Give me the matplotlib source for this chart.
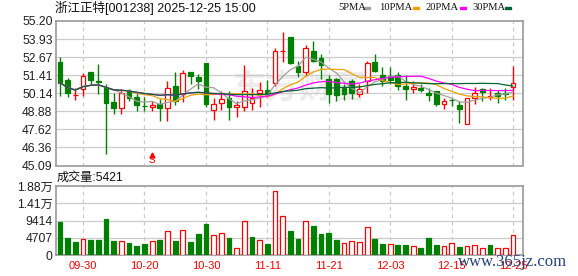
import matplotlib
matplotlib.use('Agg')
import matplotlib.pyplot as plt
import numpy as np
import pandas as pd
from matplotlib.patches import Rectangle

plt.rcParams['font.family'] = ['Liberation Sans', 'Noto Sans CJK SC']

title = '浙江正特[001238] 2025-12-25 15:00'

opens = [52.30, 51.06, 50.00, 50.43, 51.60, 51.00, 50.54, 49.54, 49.14, 50.31,
         49.89, 49.27, 49.18, 49.37, 49.14, 50.68, 50.07, 51.66, 51.25, 52.25,
         48.98, 49.49, 49.80, 49.20, 49.20, 49.49, 50.15, 50.38, 50.89, 53.10,
         54.05, 52.06, 51.66, 53.07, 52.58, 51.17, 51.17, 50.54, 51.01, 50.07,
         51.01, 52.34, 51.43, 51.32, 51.41, 50.66, 50.47, 50.54, 50.15, 50.31,
         49.42, 49.70, 49.30, 48.00, 49.84, 50.43, 49.89, 50.19, 50.17, 50.59]
highs = [52.65, 51.20, 50.54, 51.55, 51.65, 52.20, 50.78, 50.15, 50.47, 50.47,
         50.24, 49.90, 49.60, 49.77, 51.00, 51.65, 51.78, 51.66, 51.48, 52.25,
         49.84, 50.31, 50.30, 49.60, 52.13, 50.54, 50.96, 51.10, 53.30, 54.40,
         54.05, 52.41, 53.52, 53.83, 52.88, 51.41, 51.20, 50.78, 51.13, 50.78,
         52.37, 52.88, 51.95, 51.95, 51.60, 51.41, 51.00, 50.78, 50.54, 50.31,
         49.84, 49.84, 49.61, 49.84, 50.61, 50.54, 50.50, 50.38, 50.50, 52.02]
lows = [49.96, 49.89, 49.68, 49.96, 50.78, 50.10, 45.90, 48.67, 48.67, 49.61,
        48.90, 48.90, 48.90, 48.20, 48.20, 49.35, 49.54, 50.78, 50.47, 49.20,
        48.27, 48.98, 48.27, 48.50, 48.90, 48.98, 49.20, 49.96, 50.66, 52.35,
        52.20, 51.25, 51.32, 52.30, 51.13, 49.49, 49.61, 49.68, 49.77, 49.91,
        50.19, 51.60, 50.66, 50.78, 50.38, 49.68, 50.19, 50.24, 49.61, 49.26,
        49.07, 49.26, 48.04, 48.00, 49.37, 49.61, 49.65, 49.49, 49.70, 49.70]
closes = [50.89, 50.17, 50.05, 51.32, 51.08, 50.90, 49.49, 49.14, 50.15, 49.84,
          49.30, 49.22, 49.35, 49.14, 50.54, 49.60, 51.55, 51.32, 51.01, 49.37,
          49.42, 49.77, 49.19, 49.35, 50.29, 49.80, 50.38, 50.15, 53.07, 53.12,
          52.23, 51.64, 53.28, 52.37, 52.11, 50.07, 50.02, 50.12, 50.15, 50.47,
          52.25, 51.71, 51.01, 51.08, 50.66, 50.43, 50.61, 50.36, 50.00, 49.37,
          49.61, 49.66, 49.07, 49.84, 50.15, 50.26, 49.96, 49.98, 50.12, 50.89]
volumes = [8996, 4590, 3488, 4498, 4039, 4039, 9823, 3764, 3947, 3213,
           2387, 2938, 3947, 4039, 6426, 3764, 6701, 3488, 5692, 8446,
           5324, 5875, 4590, 2020, 9180, 4865, 4223, 2938, 17442, 10649,
           6518, 4315, 9180, 7895, 5692, 5967, 4039, 3213, 3947, 3672,
           7528, 4315, 2938, 2938, 2662, 2662, 2387, 1836, 4590, 2662,
           2387, 3213, 2111, 2387, 2662, 1836, 2662, 1836, 1836, 5421]

date_labels = ['09-30', '10-20', '10-30', '11-11', '11-21', '12-03', '12-15', '12-25']
date_label_idx = [3, 11, 19, 27, 35, 43, 51, 59]

price_ticks = [45.09, 46.36, 47.62, 48.88, 50.14, 51.41, 52.67, 53.93, 55.20]
price_tick_labels = ['45.09', '46.36', '47.62', '48.88', '50.14', '51.41', '52.67', '53.93', '55.20']
vol_ticks = [0, 4707, 9414, 14121, 18828]
vol_tick_labels = ['0', '4707', '9414', '1.41万', '1.88万']

ma_windows = [5, 10, 20, 30]
ma_names = ['5PMA', '10PMA', '20PMA', '30PMA']
ma_colors = ['#a0a0a0', '#f0a000', '#ff00ff', '#006633']

signal_idx = 12
signal_text = 'S'

RED = '#ff0000'
GREEN = '#008000'
GRID = '#cccccc'
FRAME = '#999999'

W, H = 578, 276
fig = plt.figure(figsize=(W / 100, H / 100), dpi=100)

def fx(px):
    return px / W

def fy(py):
    return 1 - py / H

ax = fig.add_axes([fx(56), fy(165.5), fx(523) - fx(56), fy(21) - fy(165.5)])
ax2 = fig.add_axes([fx(56), fy(255), fx(523) - fx(56), fy(186) - fy(255)])

o = np.array(opens); h = np.array(highs); l = np.array(lows); c = np.array(closes)
v = np.array(volumes)
n = len(c)
x = np.arange(n)
up = c >= o

# watermark
ax.text(0.52, 0.53, '东方财富', transform=ax.transAxes, fontsize=24,
        color='#ececec', ha='center', va='center', zorder=0,
        family=['Noto Sans CJK SC'], fontweight='bold')

# candles
cols = np.where(up, RED, GREEN)
faces = np.where(up, 'white', GREEN)
ax.vlines(x, l, h, colors=cols, linewidth=1.0, zorder=3)
ax.bar(x, np.maximum(np.abs(c - o), 0.02), bottom=np.minimum(o, c), width=0.62,
       color=faces, edgecolor=cols, linewidth=0.9, zorder=4)

# moving averages
cs = pd.Series(c)
for w, col in zip(ma_windows, ma_colors):
    ma = cs.rolling(w, min_periods=1).mean()
    ax.plot(x, ma.values, color=col, linewidth=0.9, zorder=5)

# signal marker
ax.plot([signal_idx], [45.85], marker='^', color=RED, markersize=3.5, zorder=6, linestyle='none')
ax.text(signal_idx, 45.12, signal_text, color=RED, ha='center', va='bottom',
        fontsize=8, zorder=6, family=['Liberation Mono'])

# volume
prev = np.concatenate([[o[0]], c[:-1]])
vup = c >= prev
vcols = np.where(vup, RED, GREEN)
vfaces = np.where(vup, 'white', GREEN)
ax2.bar(x, v, width=0.62, color=vfaces, edgecolor=vcols, linewidth=0.9, zorder=3)

for a in (ax, ax2):
    a.set_xlim(-0.52, n - 1 + 1.3)
    for s in a.spines.values():
        s.set_color(FRAME)
        s.set_linewidth(1.2)
    for xi in date_label_idx:
        a.axvline(xi, color=GRID, linewidth=0.9, linestyle=(0, (3, 3)), zorder=1)
    a.tick_params(length=0)

ax.set_ylim(price_ticks[0], price_ticks[-1])
ax.set_yticks(price_ticks)
ax.set_yticklabels(price_tick_labels, fontsize=8.7, color='#222222')
for t in price_ticks[1:-1]:
    ax.axhline(t, color=GRID, linewidth=0.9, zorder=1)
ax.set_xticks([])
ax.tick_params(axis='y', pad=2.5)

ax2.set_ylim(vol_ticks[0], vol_ticks[-1])
ax2.set_yticks(vol_ticks)
ax2.set_yticklabels(vol_tick_labels, fontsize=8.7, color='#222222')
for t in vol_ticks[1:-1]:
    ax2.axhline(t, color=GRID, linewidth=0.9, zorder=1)
ax2.set_xticks(date_label_idx)
ax2.set_xticklabels(date_labels, fontsize=8, color=RED)
ax2.tick_params(axis='y', pad=2.5)
ax2.tick_params(axis='x', pad=4)

# header texts
fig.text(fx(55), fy(8), title, fontsize=9, ha='left', va='center', color='#111111')
fig.text(fx(57), fy(178), '成交量:%d' % volumes[-1], fontsize=8.7, ha='left', va='center', color='#111111')

leg_x = [338, 379, 426, 472]
mark_x = [364, 413, 460, 505]
for name, col, lx, mx in zip(ma_names, ma_colors, leg_x, mark_x):
    fig.text(fx(lx), fy(8), name, fontsize=7.6, ha='left', va='center',
             family=['Liberation Serif'], color='#111111')
    fig.patches.append(Rectangle((fx(mx), fy(9.2)), fx(6), 2.6 / H,
                                 transform=fig.transFigure, color=col, figure=fig))

fig.text(fx(513), fy(262), 'www.365jz.com', fontsize=12, ha='center', va='center',
         family=['Liberation Serif'], color='#23427c', zorder=10)

fig.savefig('out.png', dpi=100)
